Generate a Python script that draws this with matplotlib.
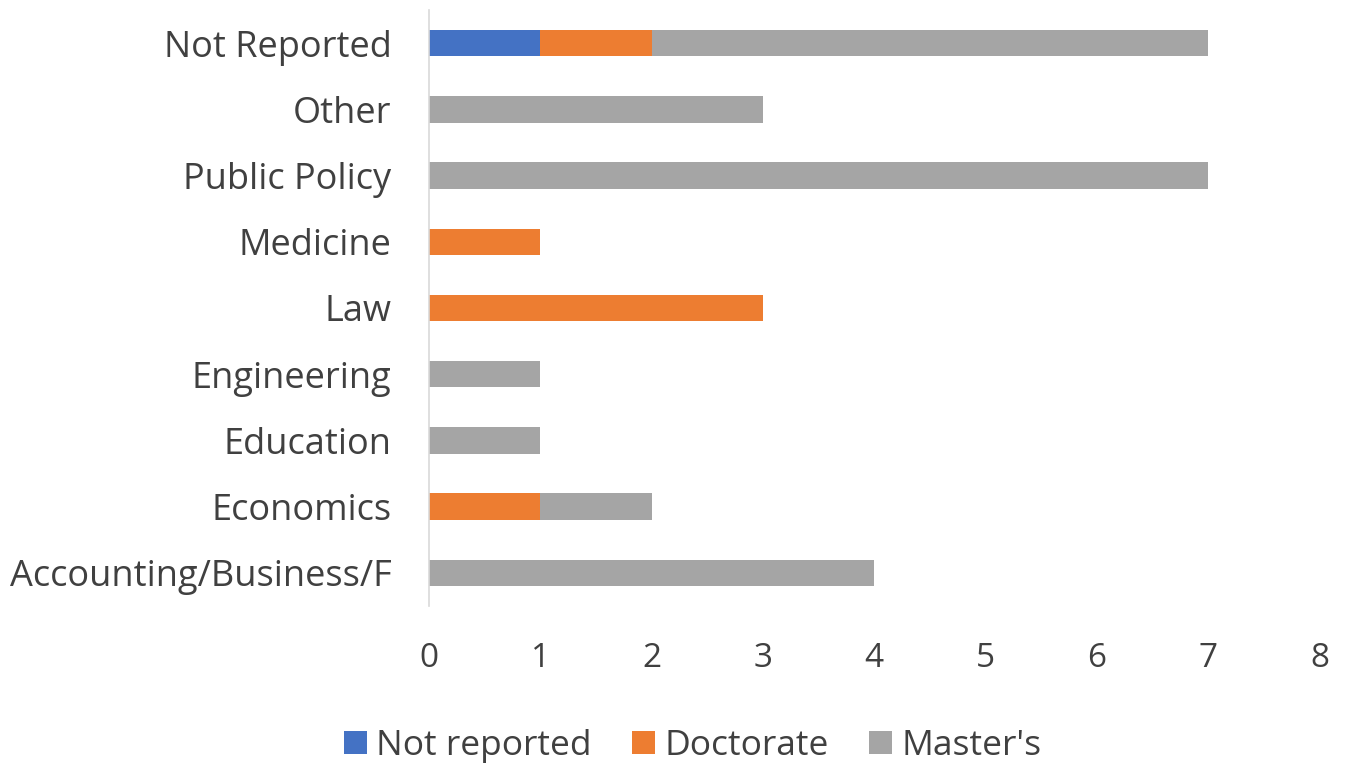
import matplotlib.pyplot as plt
import numpy as np

categories = ["Accounting/Business/F", "Economics", "Education", "Engineering",
              "Law", "Medicine", "Public Policy", "Other", "Not Reported"]
not_reported = [0, 0, 0, 0, 0, 0, 0, 0, 1]
doctorate = [0, 1, 0, 0, 3, 1, 0, 0, 1]
masters = [4, 1, 1, 1, 0, 0, 7, 3, 5]

series_names = ["Not reported", "Doctorate", "Master's"]
colors = ["#4472C4", "#ED7D31", "#A5A5A5"]

plt.rcParams['font.family'] = ['Open Sans', 'DejaVu Sans']

fig = plt.figure(figsize=(13.45, 7.68), dpi=100)
ax = fig.add_axes([0.319, 0.211, 0.662, 0.776])

y = np.arange(len(categories))
left = np.zeros(len(categories))
for vals, name, c in zip([not_reported, doctorate, masters], series_names, colors):
    ax.barh(y, vals, left=left, height=0.4, color=c, label=name)
    left += np.array(vals)

ax.set_xlim(0, 8)
ax.set_ylim(-0.5, len(categories) - 0.5)
ax.set_yticks(y)
ax.set_yticklabels(categories, fontsize=26, color="#404040")
ax.set_xticks(range(0, 9))
ax.tick_params(axis='x', labelsize=24, labelcolor="#404040", length=0, pad=26)
ax.tick_params(axis='y', length=0, pad=27)

for s in ["top", "right", "bottom"]:
    ax.spines[s].set_visible(False)
ax.spines["left"].set_color("#D9D9D9")
ax.spines["left"].set_linewidth(1.2)

leg = fig.legend(loc="lower center", bbox_to_anchor=(0.515, -0.035), ncol=3,
                 frameon=False, fontsize=25.5, handlelength=0.65, handleheight=0.65,
                 columnspacing=1.15, handletextpad=0.25)
for t in leg.get_texts():
    t.set_color("#404040")

fig.savefig("out.png", dpi=100)
